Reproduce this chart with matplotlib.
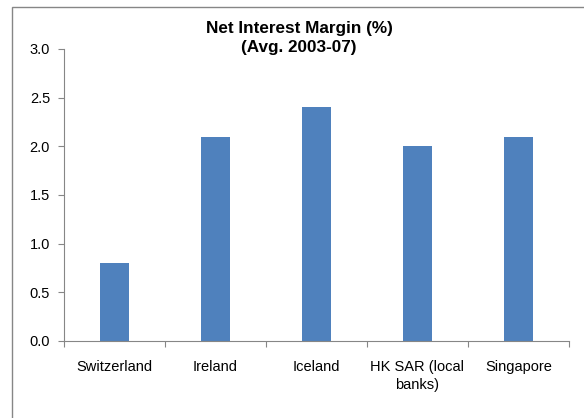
import matplotlib
matplotlib.use("Agg")
import matplotlib.pyplot as plt
from matplotlib.patches import Rectangle

categories = ["Switzerland", "Ireland", "Iceland", "HK SAR (local\nbanks)", "Singapore"]
values = [0.8, 2.1, 2.4, 2.0, 2.1]
yticks = [0.0, 0.5, 1.0, 1.5, 2.0, 2.5, 3.0]

plt.rcParams['font.family'] = ['Liberation Sans', 'DejaVu Sans']

W, H = 584, 418
fig = plt.figure(figsize=(W/100, H/100), dpi=100)
ax = fig.add_axes([64/W, 1-341/H, (569-64)/W, (341-49)/H])

x = list(range(len(categories)))
ax.bar(x, values, width=0.28, color="#4F81BD", zorder=2)
ax.set_xlim(-0.5, len(categories)-0.5)
ax.set_ylim(0, 3.0)
ax.set_yticks(yticks)
ax.set_yticklabels([f"{v:.1f}" for v in yticks], fontsize=10.5)
ax.set_xticks(x)
ax.set_xticklabels(categories, fontsize=10.5, linespacing=1.3)
ax.tick_params(axis='x', length=0, pad=14)
ax.set_xticks([i-0.5 for i in range(len(categories)+1)], minor=True)
ax.tick_params(axis='x', which='minor', length=4, color="#868686", width=0.8, direction='out')
ax.tick_params(axis='y', length=4, color="#868686", width=0.8, pad=6, direction='out')

for s in ['top', 'right']:
    ax.spines[s].set_visible(False)
for s in ['left', 'bottom']:
    ax.spines[s].set_color("#868686")
    ax.spines[s].set_linewidth(0.8)

fig.text(299/W, 1-38/H, "Net Interest Margin (%)\n(Avg. 2003-07)", fontsize=12.3,
         fontweight='bold', ha='center', va='center', linespacing=1.3)

fig.patches.append(Rectangle((12/W, -0.1), 1.2, 1-7/H+0.1, transform=fig.transFigure,
                             fill=False, edgecolor="#868686", linewidth=1.0))

fig.savefig("out.png", dpi=100)
